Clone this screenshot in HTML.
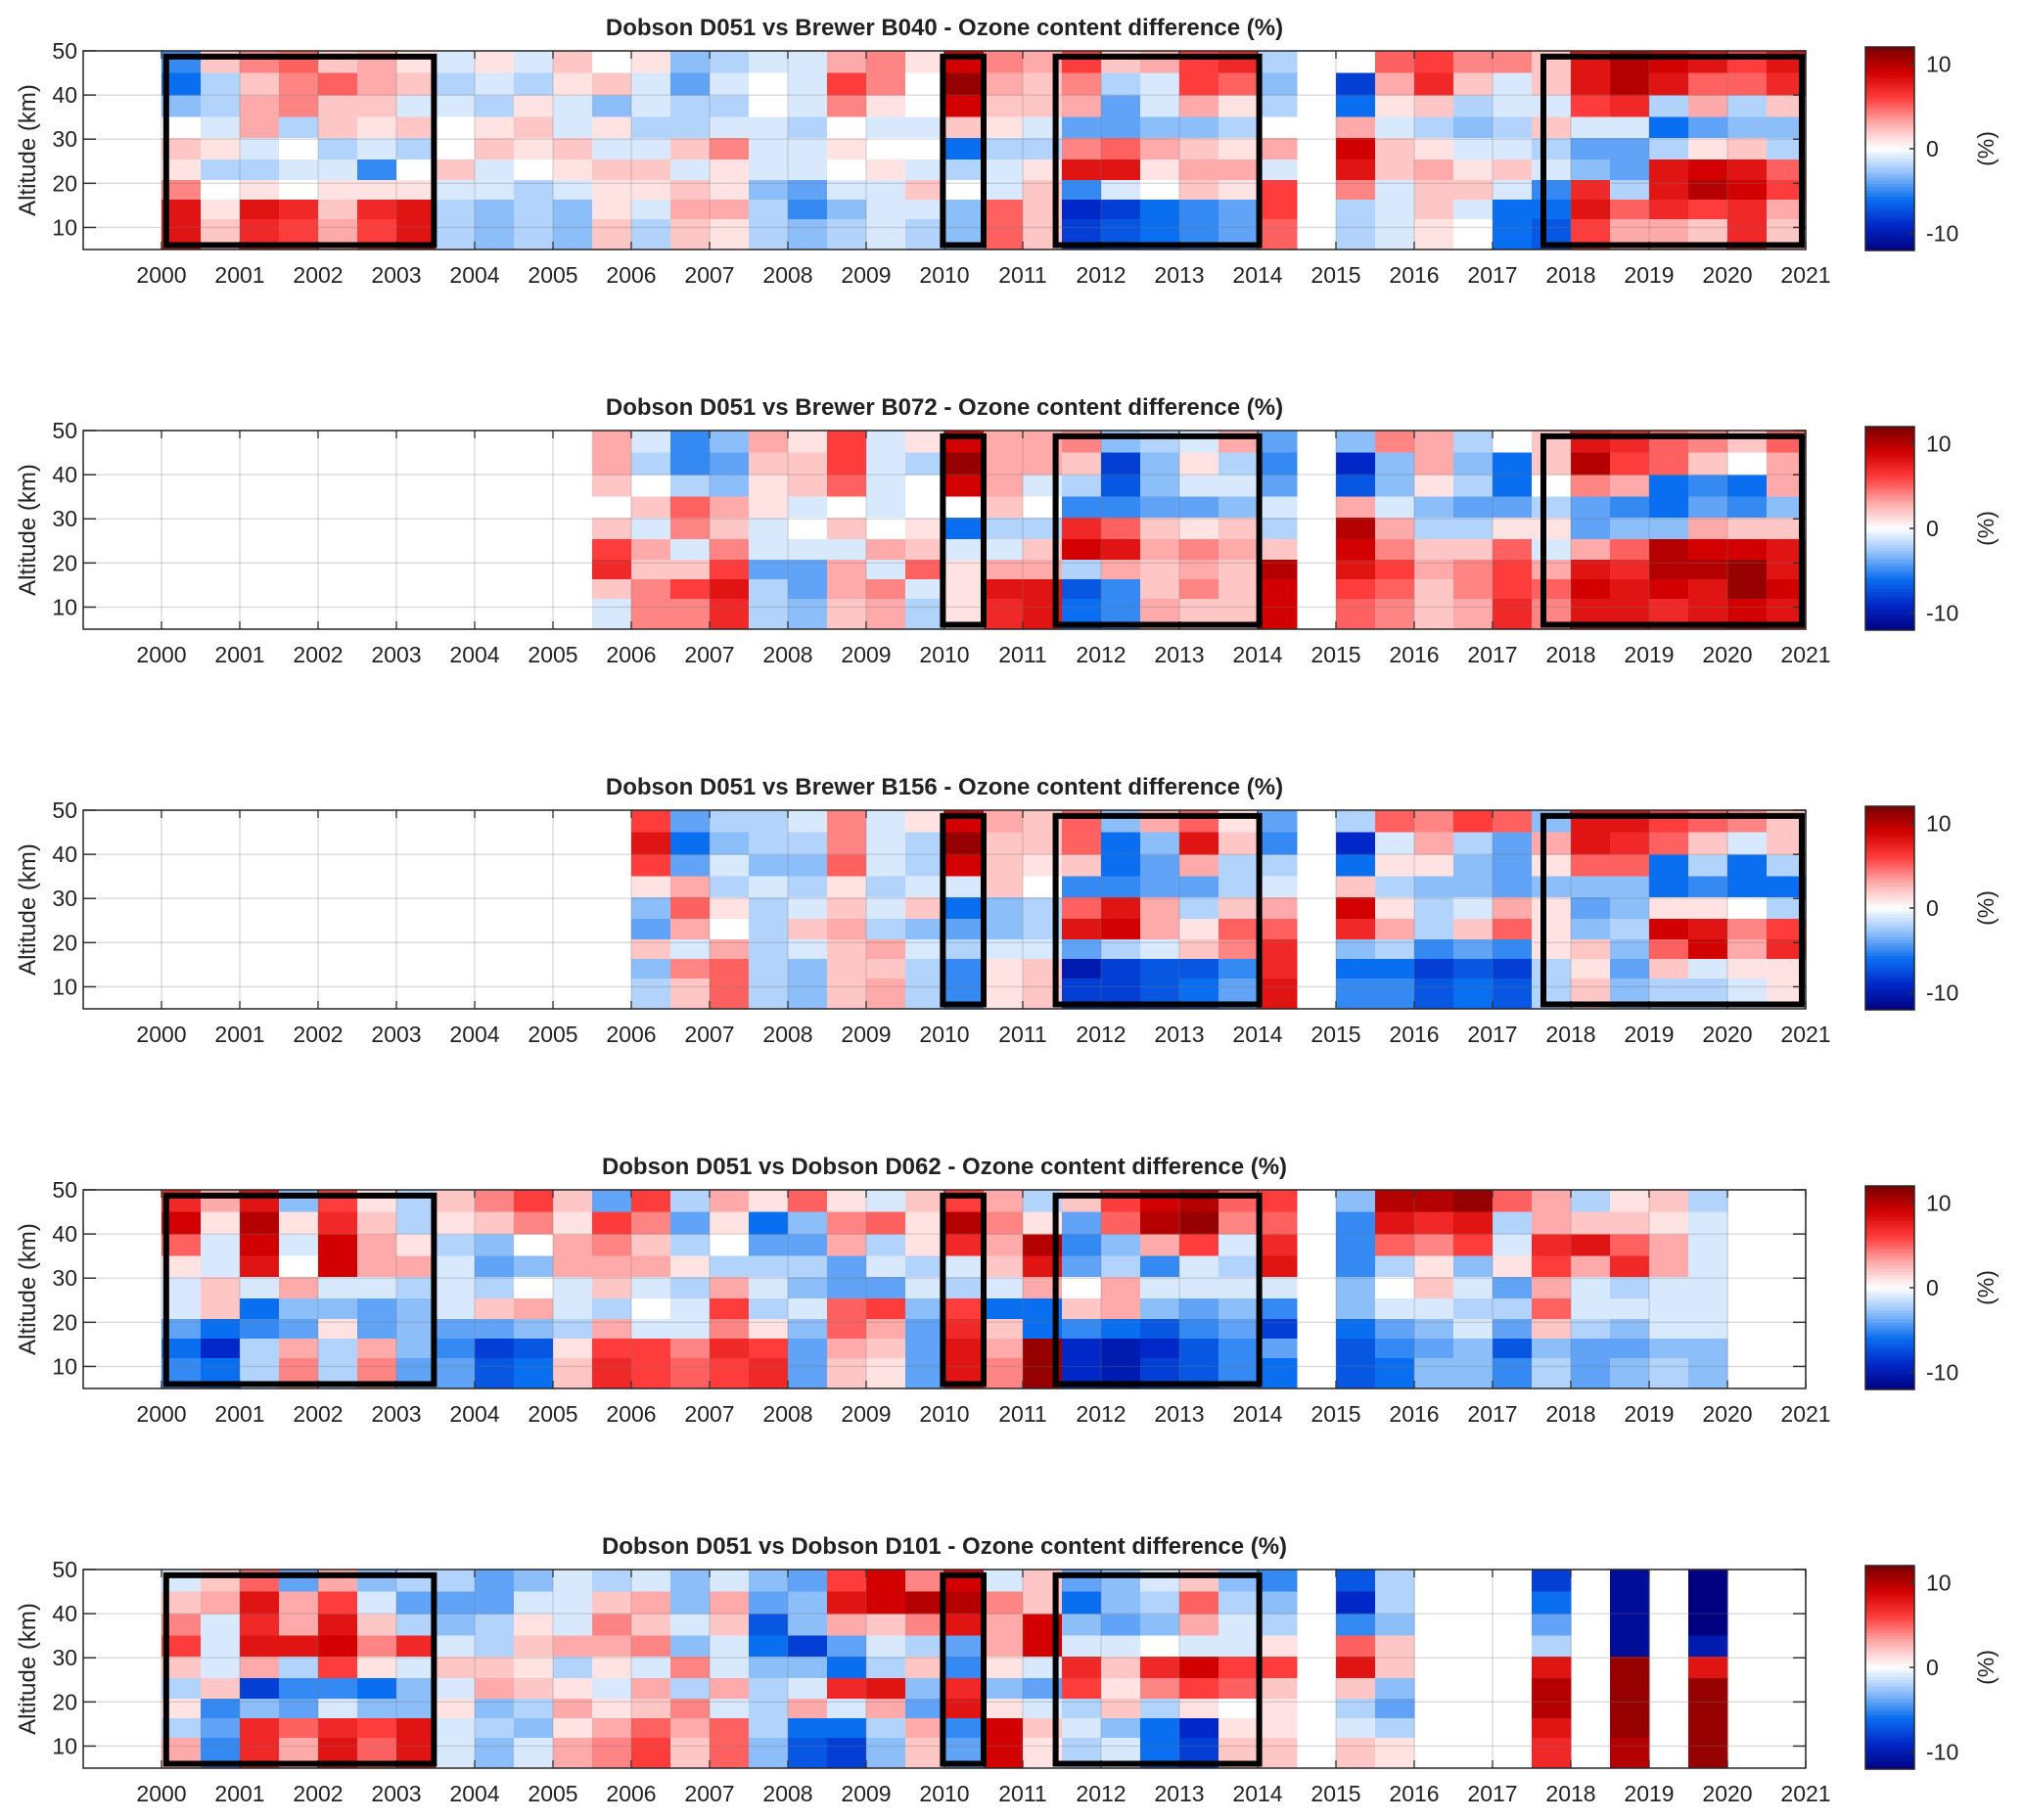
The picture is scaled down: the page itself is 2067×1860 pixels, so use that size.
<!DOCTYPE html>
<html>
<head>
<meta charset="utf-8">
<style>
  html,body{margin:0;padding:0;background:#fff;}
  svg{display:block;}
  text{font-family:"Liberation Sans",Arial,sans-serif;fill:#222;}
</style>
</head>
<body>
<svg id="fig" width="2067" height="1860" viewBox="0 0 2067 1860" xmlns="http://www.w3.org/2000/svg"></svg>
<script>
const N = null;
// ---- axis data ----
const xTickYears = [2000,2001,2002,2003,2004,2005,2006,2007,2008,2009,2010,2011,2012,2013,2014,2015,2016,2017,2018,2019,2020,2021];
const yTickKm = [10,20,30,40,50];
const cbarTicks = [-10,0,10];
const altBounds = [5,12,16.4,20.9,25.5,30.4,35.2,40.1,45.1,50];
const colStartYear = 2000;
const colStep = 0.5;
const panelTitles = [
 "Dobson D051 vs Brewer B040 - Ozone content difference (%)",
 "Dobson D051 vs Brewer B072 - Ozone content difference (%)",
 "Dobson D051 vs Brewer B156 - Ozone content difference (%)",
 "Dobson D051 vs Dobson D062 - Ozone content difference (%)",
 "Dobson D051 vs Dobson D101 - Ozone content difference (%)"
];
// boxes [startYear,endYear]
const boxes1 = [[2000.06,2003.48],[2009.98,2010.5],[2011.42,2014.02],[2017.65,2020.95]];
const boxes2 = [[2009.98,2010.5],[2011.42,2014.02],[2017.65,2020.95]];
const boxes3 = [[2009.98,2010.5],[2011.42,2014.02],[2017.65,2020.95]];
const boxes4 = [[2000.06,2003.48],[2009.98,2010.5],[2011.42,2014.02]];
const boxes5 = [[2000.06,2003.48],[2009.98,2010.5],[2011.42,2014.02]];
const boxKm = [6,48.7];

// ---- panel 1: B040 (rows bottom r0 -> top r8), half-year columns 2000.0..2020.5 ----
const d1_r0 = [8,2,7,6,3,6, 8,-2,-3,-2,-3,2, -2,2,1,-2,-3,-2, -1,-2,-3,5,2,-8, -7,-6,-5,-4,5,N, -2,-1,1,0,-6,-7, 6,3,3,2,7,2];
const d1_r1 = [8,1,8,7,2,7, 8,-2,-3,-2,-3,1, -1,3,3,-2,-5,-3, -1,-1,-3,5,2,-9, -8,-6,-5,-4,6,N, -2,-1,2,-1,-6,-6, 8,5,7,6,7,3];
const d1_r2 = [4,0,1,0,1,1, 1,-1,-1,-2,-1,1, 1,2,1,-3,-4,-1, -1,2,0,-1,2,-5, -1,0,2,1,6,N, 4,-1,2,2,-1,-5, 7,-2,8,10,9,6];
const d1_r3 = [1,-2,-2,-1,-1,-5, 0,2,-1,0,1,2, 2,-1,1,-1,-1,0, 1,-1,-2,-1,1,8, 8,1,3,3,-1,N, 8,2,3,1,2,-1, -3,-4,8,9,8,5];
const d1_r4 = [2,1,-1,0,-2,-1, -2,0,2,1,2,-1, -1,2,4,-1,-1,1, 0,0,-6,-2,-2,4, 5,3,2,1,3,N, 9,2,1,-1,-1,-2, -4,-4,-2,1,2,-2];
const d1_r5 = [0,-1,3,-2,2,1, 2,0,1,2,-1,1, -2,-2,-1,-1,-2,0, -1,-1,2,1,-1,-4, -4,-3,-3,-2,0,N, 3,-1,-2,-3,-2,2, -1,-1,-6,-4,-3,-3];
const d1_r6 = [-3,-2,3,4,2,2, -1,-1,-2,1,-1,-3, -1,-2,-2,0,-1,4, 1,0,9,2,2,3, -4,-1,3,1,-2,N, -6,1,2,-2,-1,-1, 6,7,-2,3,-2,2];
const d1_r7 = [-6,-2,2,4,5,3, 2,-2,-1,-2,1,2, -1,-4,-1,0,-1,6, 4,0,11,3,2,4, -2,-1,6,5,-3,N, -8,3,7,2,-1,2, 8,10,8,5,5,7];
const d1_r8 = [-5,2,4,5,2,3, 1,-1,1,-1,2,0, 1,-3,-2,-1,-1,3, 4,1,9,4,3,6, 2,3,6,7,-2,N, 0,5,6,4,4,2, 8,10,9,8,6,8];

// ---- panel 2: B072 ----
const d2_r0 = [N,N,N,N,N,N, N,N,N,N,N,-1, 4,4,7,-2,-3,2, 3,-2,1,7,8,-6, -5,3,2,2,9,N, 5,4,2,3,7,4, 8,8,7,8,9,8];
const d2_r1 = [N,N,N,N,N,N, N,N,N,N,N,2, 4,6,8,-2,-4,3, 4,-1,1,8,8,-7, -5,2,4,2,9,N, 6,5,2,4,6,5, 9,8,9,8,11,9];
const d2_r2 = [N,N,N,N,N,N, N,N,N,N,N,7, 2,2,6,-4,-4,3, -1,5,1,3,3,-2, 3,2,3,2,10,N, 8,6,3,4,6,3, 8,7,10,10,11,8];
const d2_r3 = [N,N,N,N,N,N, N,N,N,N,N,6, 3,-1,4,-1,-1,-1, 3,2,-1,-1,2,9, 8,3,4,3,2,N, 9,4,2,2,5,-1, 3,5,10,9,9,8];
const d2_r4 = [N,N,N,N,N,N, N,N,N,N,N,2, -1,4,2,-1,0,2, 0,1,-6,-2,-2,7, 5,2,1,2,-2,N, 10,3,-2,-2,1,1, -4,-3,-3,3,2,2];
const d2_r5 = [N,N,N,N,N,N, N,N,N,N,N,0, 2,5,3,1,-1,0, -1,0,0,2,0,-5, -5,-4,-4,-3,-1,N, 3,-1,-3,-4,-4,-2, -4,-5,-6,-4,-5,-3];
const d2_r6 = [N,N,N,N,N,N, N,N,N,N,N,2, 0,-2,-3,1,2,5, -1,0,9,3,-1,-2, -7,-3,-1,-1,-4,N, -7,-3,1,-2,-6,0, 4,3,-6,-5,-6,3];
const d2_r7 = [N,N,N,N,N,N, N,N,N,N,N,3, -2,-5,-4,2,2,6, -1,-2,11,3,3,2, -8,-3,1,-2,-5,N, -9,-3,3,-3,-6,2, 10,6,5,2,0,3];
const d2_r8 = [N,N,N,N,N,N, N,N,N,N,N,3, -1,-5,-3,3,1,6, -1,1,9,3,3,4, -3,-2,-1,3,-4,N, -3,4,3,-2,0,2, 8,7,5,4,2,5];

// ---- panel 3: B156 ----
const d3_r0 = [N,N,N,N,N,N, N,N,N,N,N,N, -2,2,5,-2,-3,2, 3,-2,-5,1,2,-8, -8,-7,-6,-4,8,N, -5,-5,-7,-6,-7,-2, 2,-3,-2,-2,-1,1];
const d3_r1 = [N,N,N,N,N,N, N,N,N,N,N,N, -3,4,5,-2,-3,2, 2,-2,-5,1,2,-10, -8,-7,-7,-5,7,N, -6,-6,-8,-7,-8,-2, 1,-4,2,-1,1,1];
const d3_r2 = [N,N,N,N,N,N, N,N,N,N,N,N, 2,-1,3,-2,-1,2, 3,-1,-2,-1,-1,-4, -2,-1,2,4,7,N, -3,-2,-5,-4,-5,1, 2,-3,5,9,3,7];
const d3_r3 = [N,N,N,N,N,N, N,N,N,N,N,N, -4,3,0,-2,2,3, -2,-3,-4,-3,-2,8, 9,3,1,5,5,N, 7,3,-2,2,5,1, -3,-2,9,8,4,6];
const d3_r4 = [N,N,N,N,N,N, N,N,N,N,N,N, -3,5,1,-2,-1,2, -1,2,-6,-3,-2,5, 8,3,-2,2,3,N, 9,1,-2,-1,3,1, -4,-3,1,1,0,-2];
const d3_r5 = [N,N,N,N,N,N, N,N,N,N,N,N, 1,3,-2,-1,-2,1, -2,-1,-1,2,0,-5, -5,-4,-4,-2,-1,N, 2,-2,-3,-3,-4,-3, -3,-3,-6,-5,-6,-6];
const d3_r6 = [N,N,N,N,N,N, N,N,N,N,N,N, 6,-4,-1,-3,-3,5, -1,-2,9,2,1,2, -6,-4,3,-2,-2,N, -6,1,1,-3,-4,1, 5,5,-6,-2,-6,-2];
const d3_r7 = [N,N,N,N,N,N, N,N,N,N,N,N, 8,-6,-3,-2,-2,4, -1,-2,11,2,2,5, -6,-3,8,2,-5,N, -9,-1,3,-2,-4,3, 8,7,5,2,-1,2];
const d3_r8 = [N,N,N,N,N,N, N,N,N,N,N,N, 6,-4,-2,-2,-1,4, -1,1,9,3,2,5, -3,3,5,1,-4,N, -2,5,4,6,5,-3, 8,8,6,5,4,2];

// ---- panel 4: D062 ----
const d4_r0 = [-5,-6,-2,4,-2,4, -4,-4,-7,-6,2,7, 6,5,6,7,-4,2, 1,-4,8,4,11,-9, -10,-8,-7,-5,-6,N, -7,-6,-3,-3,-5,-2, -4,-3,-2,-3,N,N];
const d4_r1 = [-6,-9,-2,3,-2,3, -3,-5,-8,-7,1,6, 6,4,7,6,-4,3, 2,-4,8,3,11,-9, -10,-9,-7,-5,-4,N, -7,-5,-4,-3,-7,-3, -4,-4,-3,-3,N,N];
const d4_r2 = [-4,-6,-5,-4,1,-4, -3,-4,-4,-3,-2,3, -1,-1,4,1,-3,5, 3,-4,7,2,-6,-5, -6,-7,-5,-4,-8,N, -6,-4,-3,-1,-4,2, -2,-3,-1,-1,N,N];
const d4_r3 = [-1,2,-6,-3,-3,-4, -3,-1,2,3,-1,-2, 0,-1,6,-2,-1,5, 6,-3,6,-6,-6,2, 3,-3,-4,-3,-5,N, -3,-1,-1,-2,-2,5, -1,-1,-1,-1,N,N];
const d4_r4 = [-1,2,-1,3,-1,-1, -2,-1,-2,0,-1,2, -1,-2,3,-1,-3,-4, -4,-1,-2,-1,3,0, 3,-1,-1,-1,-1,N, -3,0,2,-1,-4,3, -1,-2,-1,-1,N,N];
const d4_r5 = [1,-1,8,0,9,3, 3,-1,-4,-3,3,3, 3,1,-2,-2,-2,-4, -1,-2,-1,2,8,-4, -2,-5,-1,-2,8,N, -5,-2,1,-3,1,6, 3,7,3,-1,N,N];
const d4_r6 = [5,-1,9,-1,9,3, 1,-2,-3,0,3,4, 2,-2,0,-4,-4,3, -2,1,7,3,10,-5, -3,3,6,-1,7,N, -5,5,4,6,-1,7, 8,5,3,-1,N,N];
const d4_r7 = [9,1,10,1,7,2, -2,1,2,4,1,6, 4,-4,1,-6,-3,4, 5,1,10,4,1,-4, 5,10,11,4,5,N, -5,8,7,8,-2,3, 2,2,1,-1,N,N];
const d4_r8 = [7,3,8,-3,6,1, -2,2,4,6,2,-4, 6,-2,3,1,5,1, -1,2,6,3,-2,2, 6,9,10,5,6,N, -3,10,10,11,5,3, -2,1,2,-2,N,N];

// ---- panel 5: D101 ----
const d5_r0 = [3,-5,7,3,8,5, 8,-1,-3,-1,3,4, 6,2,5,-3,-7,-8, -3,2,-4,9,1,-2, -1,-6,-8,2,2,N, 2,1,N,N,N,7, N,10,N,11,N,N];
const d5_r1 = [-2,-4,7,5,7,6, 8,-1,-2,-3,1,3, 5,3,5,-2,-6,-6, -2,3,-5,9,2,-1, -3,-6,-9,1,1,N, -1,-2,N,N,N,8, N,11,N,11,N,N];
const d5_r2 = [1,-5,-3,-4,-1,-3, -3,1,-3,-2,3,1, 2,4,-1,-2,3,-1, 3,-4,8,1,-1,-2, 2,-2,1,0,1,N, -2,-4,N,N,N,10, N,11,N,11,N,N];
const d5_r3 = [-2,2,-8,-5,-5,-6, -3,-1,3,2,1,-1, 3,-2,3,-2,-1,7, 8,-3,7,-3,-4,6, 1,4,6,5,2,N, 2,-3,N,N,N,10, N,11,N,11,N,N];
const d5_r4 = [2,-1,3,-2,6,1, -1,2,2,1,-2,1, -1,4,-1,-3,-3,-6, -2,2,-5,1,-1,7, 2,7,9,6,6,N, 8,2,N,N,N,8, N,11,N,8,N,N];
const d5_r5 = [6,-1,8,8,9,4, 7,-1,-2,2,3,3, 4,-3,-1,-6,-8,-4, -1,-2,-4,3,9,-1, -1,0,-1,-1,1,N, 5,2,N,N,N,-2, N,-11,N,-10,N,N];
const d5_r6 = [4,-1,7,3,8,2, -2,-3,-2,1,-1,4, 2,-1,2,-7,-3,3, 2,4,8,3,9,-3, -4,-3,3,-1,-2,N, -5,-3,N,N,N,-4, N,-11,N,-12,N,N];
const d5_r7 = [2,3,8,3,6,-1, -4,-4,-4,-1,-1,2, 3,-3,3,-4,-3,8, 9,10,10,4,2,-6, -3,-2,5,-2,-3,N, -9,-2,N,N,N,-6, N,-11,N,-12,N,N];
const d5_r8 = [-1,2,5,-4,3,-3, -2,-2,-4,-3,-1,-2, -1,-3,-1,-3,-4,6, 9,4,9,-1,2,-4, -3,-1,2,-3,-5,N, -7,-2,N,N,N,-8, N,-11,N,-12,N,N];

const panelRows = [
 [d1_r0,d1_r1,d1_r2,d1_r3,d1_r4,d1_r5,d1_r6,d1_r7,d1_r8],
 [d2_r0,d2_r1,d2_r2,d2_r3,d2_r4,d2_r5,d2_r6,d2_r7,d2_r8],
 [d3_r0,d3_r1,d3_r2,d3_r3,d3_r4,d3_r5,d3_r6,d3_r7,d3_r8],
 [d4_r0,d4_r1,d4_r2,d4_r3,d4_r4,d4_r5,d4_r6,d4_r7,d4_r8],
 [d5_r0,d5_r1,d5_r2,d5_r3,d5_r4,d5_r5,d5_r6,d5_r7,d5_r8]
];
const panelBoxes = [boxes1,boxes2,boxes3,boxes4,boxes5];

// ---- layout ----
const AX_L = 85, AX_R = 1845, AX_H = 203, TOP0 = 52, PANEL_DY = 388;
const X0 = 1999, X1 = 2021, Y0 = 5, Y1 = 50, CMIN = -12, CMAX = 12;
const CB_L = 1906, CB_W = 50;

const NS = "http://www.w3.org/2000/svg";
const svg = document.getElementById("fig");
function mk(tag, attrs, parent){
  const e = document.createElementNS(NS, tag);
  for (const k in attrs) e.setAttribute(k, attrs[k]);
  (parent||svg).appendChild(e);
  return e;
}
function xS(yr){ return AX_L + (yr - X0) * (AX_R - AX_L) / (X1 - X0); }
function yS(top, km){ return top + (Y1 - km) * AX_H / (Y1 - Y0); }

const cStops = [
 [-12,[0,0,128]],[-9,[0,40,200]],[-6,[10,110,240]],[-3,[140,190,250]],[0,[255,255,255]],
 [3,[255,170,170]],[6,[255,60,60]],[9,[210,0,0]],[12,[120,0,0]]
];
function cmap(v){
  v = Math.max(CMIN, Math.min(CMAX, v));
  for (let i=0;i<cStops.length-1;i++){
    const a=cStops[i], b=cStops[i+1];
    if (v<=b[0]){
      const t=(v-a[0])/(b[0]-a[0]);
      const c=a[1].map((x,j)=>Math.round(x+(b[1][j]-x)*t));
      return "rgb("+c.join(",")+")";
    }
  }
  return "rgb(120,0,0)";
}

panelRows.forEach((rows, p) => {
  const top = TOP0 + p*PANEL_DY, bot = top + AX_H;
  const g = mk("g", {});
  
  

  const title = mk("text", {x:(AX_L+AX_R)/2, y: top-16, "text-anchor":"middle", "font-size":"24", "font-weight":"bold"}, g);
  title.textContent = panelTitles[p];
  
  

  mk("rect", {x:AX_L, y:top, width:AX_R-AX_L, height:AX_H, fill:"#fff"}, g);

  // heatmap cells
  const cells = mk("g", {"shape-rendering":"crispEdges"}, g);
  
  
  rows.forEach((vals, r) => {
    const yt = yS(top, altBounds[r+1]), yb = yS(top, altBounds[r]);
    vals.forEach((v, k) => {
      if (v === null) return;
      const t0 = colStartYear + k*colStep, t1 = t0 + colStep;
      const x0 = xS(t0), x1 = xS(t1);
      const c = mk("rect", {x:x0, y:yt, width:x1-x0+0.6, height:yb-yt+0.6, fill:cmap(v)}, cells);
      
      
    });
  });

  // grid
  xTickYears.forEach(yr => {
    const x = xS(yr);
    mk("line", {x1:x, y1:top, x2:x, y2:bot, stroke:"rgba(120,120,120,0.28)", "stroke-width":"1.3"}, g);
    mk("line", {x1:x, y1:bot, x2:x, y2:bot-8, stroke:"#333", "stroke-width":"1.3"}, g);
    mk("line", {x1:x, y1:top, x2:x, y2:top+8, stroke:"#333", "stroke-width":"1.3"}, g);
    const t = mk("text", {x:x, y:bot+34, "text-anchor":"middle", "font-size":"23"}, g);
    t.textContent = yr;
    
    
  });
  yTickKm.forEach(km => {
    const y = yS(top, km);
    mk("line", {x1:AX_L, y1:y, x2:AX_R, y2:y, stroke:"rgba(120,120,120,0.28)", "stroke-width":"1.3"}, g);
    mk("line", {x1:AX_L, y1:y, x2:AX_L+13, y2:y, stroke:"#333", "stroke-width":"1.5"}, g);
    mk("line", {x1:AX_R, y1:y, x2:AX_R-13, y2:y, stroke:"#333", "stroke-width":"1.5"}, g);
    const t = mk("text", {x:AX_L-6, y:y+8, "text-anchor":"end", "font-size":"23"}, g);
    t.textContent = km;
    
    
  });

  // boxes
  panelBoxes[p].forEach(b => {
    const x0 = xS(b[0]), x1 = xS(b[1]);
    const y0 = yS(top, boxKm[1]), y1 = yS(top, boxKm[0]);
    const bx = mk("rect", {x:x0, y:y0, width:x1-x0, height:y1-y0, fill:"none", stroke:"#000", "stroke-width":"6"}, g);
    
    
  });

  // axes frame
  const fr = mk("rect", {x:AX_L, y:top, width:AX_R-AX_L, height:AX_H, fill:"none", stroke:"#262626", "stroke-width":"1.5"}, g);
  
  

  // y label
  const yl = mk("text", {x:0, y:0, "text-anchor":"middle", "font-size":"24", transform:"translate(36,"+(top+AX_H/2)+") rotate(-90)"}, g);
  yl.textContent = "Altitude (km)";
  
  

  // colorbar
  const cbTop = top - 4, cbBot = bot + 1;
  const cb = mk("g", {"shape-rendering":"crispEdges"}, g);
  
  
  const nSteps = 64;
  for (let i=0;i<nSteps;i++){
    const v0 = CMAX - (i)*(CMAX-CMIN)/nSteps;
    const vm = v0 - (CMAX-CMIN)/nSteps/2;
    const ya = cbTop + i*(cbBot-cbTop)/nSteps;
    mk("rect", {x:CB_L, y:ya, width:CB_W, height:(cbBot-cbTop)/nSteps+0.6, fill:cmap(vm)}, cb);
  }
  mk("rect", {x:CB_L, y:cbTop, width:CB_W, height:cbBot-cbTop, fill:"none", stroke:"#262626", "stroke-width":"1.5"}, g);
  cbarTicks.forEach(v => {
    const y = cbTop + (CMAX - v)*(cbBot-cbTop)/(CMAX-CMIN);
    mk("line", {x1:CB_L+CB_W-5, y1:y, x2:CB_L+CB_W, y2:y, stroke:"#333", "stroke-width":"1.5"}, g);
    const t = mk("text", {x:CB_L+CB_W+12, y:y+8, "font-size":"23"}, g);
    t.textContent = v;
    
    
  });
  const cl = mk("text", {x:0, y:0, "text-anchor":"middle", "font-size":"23", transform:"translate(2037,"+(cbTop+(cbBot-cbTop)/2)+") rotate(-90)"}, g);
  cl.textContent = "(%)";
  
  
});
</script>
</body>
</html>
